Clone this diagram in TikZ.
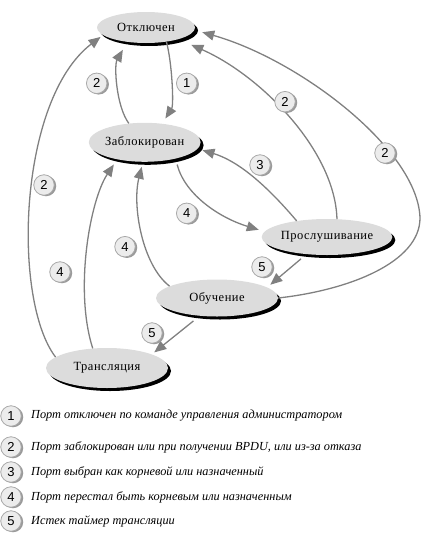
\documentclass[tikz,border=0pt]{standalone}
\usepackage{fontspec}
\setmainfont{Liberation Serif}
\newfontfamily\statefont[LetterSpace=4]{Liberation Serif}
\newfontfamily\numfont{Liberation Sans}
\usetikzlibrary{shapes.geometric,arrows.meta,shadows}
\definecolor{ellgray}{HTML}{DCDCDC}
\definecolor{linegray}{HTML}{808080}
\definecolor{badgefill}{HTML}{ECECEC}
\definecolor{badgeline}{HTML}{A8A8A8}
\definecolor{badgeshadow}{HTML}{9A9A9A}
\begin{document}
\begin{tikzpicture}[x=1pt,y=-1pt,
  state/.style={ellipse, fill=ellgray, inner sep=0pt,
    font=\statefont\fontsize{12.5}{14}\selectfont,
    drop shadow={shadow xshift=3pt,shadow yshift=-3pt,fill=black,opacity=1}},
  badge/.style={circle, minimum size=20.5pt, inner sep=0pt, fill=badgefill,
    draw=badgeline, line width=0.8pt,
    font=\numfont\fontsize{13}{13}\selectfont,
    drop shadow={shadow xshift=2pt,shadow yshift=-1pt,fill=badgeshadow,opacity=1}},
  conn/.style={draw=linegray, line width=1.3pt, -{Triangle[length=12pt,width=10pt]}},
  legend/.style={anchor=west, inner sep=0pt, font=\itshape\fontsize{12.3}{14}\selectfont}
]
\useasboundingbox (0,0) rectangle (423,541);

% states
\node[state, minimum width=98pt, minimum height=31pt] (off) at (146,27.5) {Отключен};
\node[state, minimum width=104pt, minimum height=39pt] (blk) at (144.7,142.3) {Заблокирован};
\node[state, minimum width=121pt, minimum height=36pt] (lis) at (327,237) {Прослушивание};
\node[state, minimum width=122pt, minimum height=37pt] (lrn) at (217,298) {Обучение};
\node[state, minimum width=122pt, minimum height=40pt] (fwd) at (107,368) {Трансляция};

% connectors
\draw[conn, shorten >=9pt] (blk.130) .. controls (116,106) and (114,65) .. (off.218);
\draw[conn, shorten >=6pt] (off.325) .. controls (172,62) and (174,105) .. (blk.47);
\draw[conn, shorten >=14pt] (lis.61) .. controls (335,150) and (260,75) .. (off.340);
\coordinate (rt) at (420,218);
\draw[conn, shorten >=8pt] (lrn.0) .. controls (350,290) and (420,262) .. (rt)
  .. controls (418,150) and (300,60) .. (off.357);
\draw[conn, shorten >=5pt] (lis.152) .. controls (262,180) and (235,160) .. (blk.353);
\draw[conn, shorten <=6pt, shorten >=6pt] (blk.332) .. controls (185,195) and (220,218) .. (lis.175);
\draw[conn, shorten <=7pt, shorten >=4pt] (lis.220) -- (lrn.12);
\draw[conn, shorten >=5pt] (lrn.166) .. controls (142,265) and (132,205) .. (blk.265);
\draw[conn, shorten >=6pt] (fwd.126) .. controls (74,290) and (90,200) .. (blk.212);
\draw[conn, shorten >=3pt] (fwd.168) .. controls (12,300) and (18,100) .. (off.190);
\draw[conn, shorten <=8pt, shorten >=3pt] (lrn.226) -- (fwd.17);

% badges on connectors
\node[badge] (b1) at (96.7,83.3) {2};
\node[badge] (b2) at (186.7,83.3) {1};
\node[badge] (b3) at (285,101.7) {2};
\node[badge] (b4) at (385,153) {2};
\node[badge] (b5) at (260,165) {3};
\node[badge] (b6) at (186.7,213.3) {4};
\node[badge] (b7) at (125,246.7) {4};
\node[badge] (b8) at (262,267) {5};
\node[badge] (b9) at (152,333) {5};
\node[badge] (b10) at (44,185) {2};
\node[badge] (b11) at (60,272) {4};

% legend
\node[badge] (l1) at (11,416) {1};
\node[badge] (l2) at (11,447) {2};
\node[badge] (l3) at (11,472) {3};
\node[badge] (l4) at (11,497) {4};
\node[badge] (l5) at (11,521) {5};
\node[legend] (t1) at (31,416) {Порт отключен по команде управления администратором};
\node[legend] (t2) at (31,447) {Порт заблокирован или при получении BPDU, или из-за отказа};
\node[legend] (t3) at (31,472) {Порт выбран как корневой или назначенный};
\node[legend] (t4) at (31,497) {Порт перестал быть корневым или назначенным};
\node[legend] (t5) at (31,521) {Истек таймер трансляции};
\end{tikzpicture}
\end{document}
